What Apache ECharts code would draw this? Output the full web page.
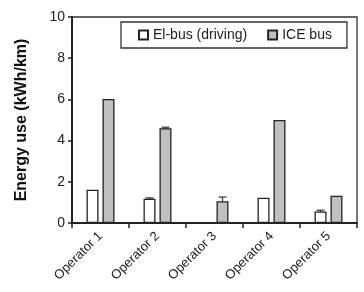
<!DOCTYPE html>
<html>
<head>
<meta charset="utf-8">
<script src="https://cdn.jsdelivr.net/npm/echarts@6/dist/echarts.min.js"></script>
<style>
  html, body { margin: 0; padding: 0; background: #fff; }
  #chart { width: 364px; height: 292px; }
</style>
</head>
<body>
<div id="chart"></div>
<script>
// 数据
const categories = ['Operator 1', 'Operator 2', 'Operator 3', 'Operator 4', 'Operator 5'];
const elBus = [1.62, 1.18, 0, 1.23, 0.56];
const iceBus = [6.02, 4.6, 1.06, 5.0, 1.32];
const elErr = [0, 0.04, 0, 0, 0.06];
const iceErr = [0, 0.05, 0.2, 0, 0];
const yTicks = [0, 10, 2]; // min, max, interval

const font = 'Liberation Sans, Arial, sans-serif';
const barW = 12;
const offset = 8; // 两组柱子中心离类目中心的距离

// 误差线数据 [类目序号, 数值, 误差, 偏移方向]
function errData(values, errs, dir) {
  const out = [];
  values.forEach((v, i) => {
    if (errs[i] > 0) out.push([i, v, errs[i], dir]);
  });
  return out;
}

function renderErr(params, api) {
  const i = api.value(0), v = api.value(1), e = api.value(2), dir = api.value(3);
  const top = api.coord([i, v + e]);
  const bot = api.coord([i, v - e]);
  const x = top[0] + dir * offset;
  const cap = 4;
  const style = { stroke: '#333', lineWidth: 1.2 };
  return {
    type: 'group',
    children: [
      { type: 'line', shape: { x1: x, y1: top[1], x2: x, y2: bot[1] }, style },
      { type: 'line', shape: { x1: x - cap, y1: top[1], x2: x + cap, y2: top[1] }, style },
      { type: 'line', shape: { x1: x - cap, y1: bot[1], x2: x + cap, y2: bot[1] }, style }
    ]
  };
}

const chart = echarts.init(document.getElementById('chart'));
const option = {
  backgroundColor: '#fff',
  animation: false,
  textStyle: { fontFamily: font },
  grid: {
    left: 72, right: 7, top: 17, bottom: 69,
    show: true, borderColor: '#333', borderWidth: 1.3, backgroundColor: 'transparent'
  },
  legend: {
    data: ['El-bus (driving)', 'ICE bus'],
    left: 121, top: 22,
    padding: [6, 15, 6, 17],
    itemWidth: 9, itemHeight: 9, itemGap: 20,
    backgroundColor: '#fff',
    borderColor: '#333', borderWidth: 1.3, borderRadius: 0,
    icon: 'rect',
    textStyle: { fontSize: 14, color: '#222', fontFamily: font }
  },
  xAxis: {
    type: 'category',
    data: categories,
    axisLine: { show: true, lineStyle: { color: '#222', width: 2 } },
    axisTick: { show: true, length: 5, lineStyle: { color: '#222', width: 1.5 } },
    axisLabel: { rotate: 45, interval: 0, margin: 11, fontSize: 13, color: '#222' },
    splitLine: { show: false }
  },
  yAxis: {
    type: 'value',
    min: yTicks[0], max: yTicks[1], interval: yTicks[2],
    name: 'Energy use (kWh/km)',
    nameLocation: 'middle', nameGap: 42,
    nameTextStyle: { fontSize: 16, fontWeight: 'bold', color: '#111' },
    axisLine: { show: true, lineStyle: { color: '#222', width: 2 } },
    axisTick: { show: true, length: 4, lineStyle: { color: '#222', width: 1.5 } },
    axisLabel: { fontSize: 14, color: '#222', margin: 7 },
    splitLine: { show: false }
  },
  series: [
    {
      name: 'El-bus (driving)',
      type: 'bar',
      data: elBus,
      barWidth: barW,
      barGap: '33%',
      z: 3,
      itemStyle: { color: '#fff', borderColor: '#222', borderWidth: 1.3 }
    },
    {
      name: 'ICE bus',
      type: 'bar',
      data: iceBus,
      barWidth: barW,
      z: 3,
      itemStyle: { color: '#c0c0c0', borderColor: '#222', borderWidth: 1.3 }
    },
    {
      type: 'custom',
      renderItem: renderErr,
      data: errData(elBus, elErr, -1).concat(errData(iceBus, iceErr, 1)),
      encode: { x: 0, y: 1 },
      z: 1,
      silent: true
    }
  ]
};
chart.setOption(option);
</script>
</body>
</html>
